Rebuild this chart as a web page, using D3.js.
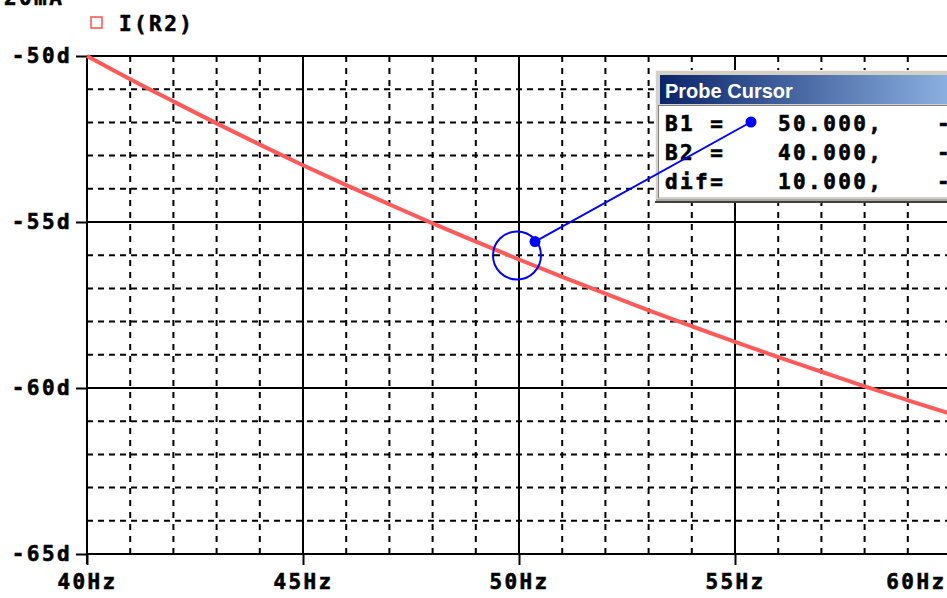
<!DOCTYPE html>
<html>
<head>
<meta charset="utf-8">
<script src="https://cdn.jsdelivr.net/npm/d3@7/dist/d3.min.js"></script>
<style>
html,body{margin:0;padding:0;background:#fff;overflow:hidden;}
svg{display:block;}
.lbl{font-family:"DejaVu Sans Mono",monospace;font-weight:bold;font-size:21px;letter-spacing:2.4px;fill:#000;stroke:#000;stroke-width:0.6px;}
</style>
</head>
<body>
<svg id="chart" width="947" height="598"></svg>
<script>
// ---- data ----
const freqHz = [40,41,42,43,44,45,46,47,48,49,50,51,52,53,54,55,56,57,58,59,60];
const phaseDeg = [-50.00,-50.70,-51.37,-52.03,-52.67,-53.29,-53.89,-54.47,-55.04,-55.59,-56.13,-56.65,-57.16,-57.66,-58.14,-58.61,-59.07,-59.51,-59.95,-60.37,-60.78];
const xTicks = [40,45,50,55,60];
const xTickLabels = ["40Hz","45Hz","50Hz","55Hz","60Hz"];
const yTicks = [-50,-55,-60,-65];
const yTickLabels = ["-50d","-55d","-60d","-65d"];
const xMinor = [41,42,43,44,46,47,48,49,51,52,53,54,56,57,58,59];
const yMinor = [-51,-52,-53,-54,-56,-57,-58,-59,-61,-62,-63,-64];
const seriesName = "I(R2)";
const topAxisLabel = "20mA";
const cursorB1 = 50, cursorB2 = 40;
const probeRows = [["B1 =","50.000,"],["B2 =","40.000,"],["dif=","10.000,"]];

// ---- layout ----
const svg = d3.select("#chart");
const x = d3.scaleLinear().domain([40,60]).range([87,951]);
const y = d3.scaleLinear().domain([-65,-50]).range([554,56]);
const W = 947;

// grid minor dashed
const g = svg.append("g");
g.selectAll(".vmin").data(xMinor).enter().append("line")
  .attr("x1",d=>x(d)).attr("x2",d=>x(d)).attr("y1",y(-50)).attr("y2",y(-65))
  .attr("stroke","#000").attr("stroke-width",2).attr("stroke-dasharray","6,6");
g.selectAll(".hmin").data(yMinor).enter().append("line")
  .attr("x1",x(40)).attr("x2",W).attr("y1",d=>y(d)).attr("y2",d=>y(d))
  .attr("stroke","#000").attr("stroke-width",2).attr("stroke-dasharray","6,5");
// major solid
g.selectAll(".vmaj").data(xTicks).enter().append("line")
  .attr("x1",d=>x(d)).attr("x2",d=>x(d)).attr("y1",y(-50)).attr("y2",y(-65))
  .attr("stroke","#000").attr("stroke-width",2);
g.selectAll(".hmaj").data(yTicks).enter().append("line")
  .attr("x1",x(40)).attr("x2",W).attr("y1",d=>y(d)).attr("y2",d=>y(d))
  .attr("stroke","#000").attr("stroke-width",2);

// axes
const xAxis = d3.axisBottom(x).tickValues(xTicks).tickSize(11).tickPadding(9)
  .tickFormat((d,i)=>xTickLabels[i]);
const xa = svg.append("g").attr("transform",`translate(0,${y(-65)})`).call(xAxis);
const yAxis = d3.axisLeft(y).tickValues(yTicks).tickSize(11).tickPadding(4)
  .tickFormat((d,i)=>yTickLabels[i]);
const ya = svg.append("g").attr("transform",`translate(${x(40)},0)`).call(yAxis);
[xa,ya].forEach(a=>{
  a.select(".domain").remove();
  a.selectAll(".tick line").attr("stroke","#000").attr("stroke-width",2);
  a.selectAll(".tick text").attr("class","lbl").attr("fill","#000");
});
xa.selectAll(".tick text").attr("dy","0.71em");
// last label clamped inside the view
xa.selectAll(".tick").filter(d=>d===60).select("text").attr("text-anchor","end").attr("x",W-x(60)-1);
// axis lines
svg.append("line").attr("x1",x(40)).attr("x2",x(40)).attr("y1",y(-50)).attr("y2",y(-65)+10)
  .attr("stroke","#000").attr("stroke-width",2);

// curve
svg.append("path").datum(freqHz.map((f,i)=>[f,phaseDeg[i]]))
  .attr("d",d3.line().x(d=>x(d[0])).y(d=>y(d[1])).curve(d3.curveMonotoneX))
  .attr("fill","none").attr("stroke","#ff5a5a").attr("stroke-width",4);

// top label (cut off) and legend
svg.append("text").attr("class","lbl").attr("x",4).attr("y",5).text(topAxisLabel);
svg.append("rect").attr("x",91).attr("y",17).attr("width",11).attr("height",11)
  .attr("fill","none").attr("stroke","#ff5a5a").attr("stroke-width",1.6);
svg.append("text").attr("class","lbl").attr("x",119).attr("y",31).text(seriesName);

// probe cursor window
const wx = 655, wy = 70;
const win = svg.append("g");
win.append("rect").attr("x",wx).attr("y",wy).attr("width",W-wx+5).attr("height",133).attr("fill","#d4d0c8");
win.append("line").attr("x1",wx).attr("x2",W).attr("y1",wy+0.5).attr("y2",wy+0.5).attr("stroke","#f4f3ee");
win.append("line").attr("x1",wx+0.5).attr("x2",wx+0.5).attr("y1",wy).attr("y2",wy+133).attr("stroke","#f4f3ee");
win.append("line").attr("x1",wx).attr("x2",W).attr("y1",wy+132).attr("y2",wy+132).attr("stroke","#404040").attr("stroke-width",2);
win.append("line").attr("x1",wx+1).attr("x2",W).attr("y1",wy+130).attr("y2",wy+130).attr("stroke","#808080").attr("stroke-width",1);
const grad = svg.append("defs").append("linearGradient").attr("id","tb").attr("x1","0").attr("x2","1");
grad.append("stop").attr("offset","0").attr("stop-color","#0a246a");
grad.append("stop").attr("offset","1").attr("stop-color","#8cb2e2");
win.append("rect").attr("x",wx+5).attr("y",wy+5).attr("width",W-wx).attr("height",29).attr("fill","url(#tb)");
win.append("text").attr("x",wx+10).attr("y",wy+28)
  .attr("font-family","'Liberation Sans',Arial,sans-serif").attr("font-weight","bold").attr("font-size","20px")
  .attr("fill","#fff").text("Probe Cursor");
win.append("rect").attr("x",wx+4).attr("y",wy+36).attr("width",W-wx).attr("height",91).attr("fill","#fff");
win.append("line").attr("x1",wx+3).attr("x2",W).attr("y1",wy+35.5).attr("y2",wy+35.5).attr("stroke","#808080");
win.append("line").attr("x1",wx+3.5).attr("x2",wx+3.5).attr("y1",wy+35).attr("y2",wy+128).attr("stroke","#808080");
probeRows.forEach((r,i)=>{
  const by = wy + 61 + i*29;
  win.append("text").attr("class","lbl").attr("x",wx+10).attr("y",by).text(r[0]);
  win.append("text").attr("class","lbl").attr("x",wx+123).attr("y",by).text(r[1]);
  win.append("text").attr("class","lbl").attr("x",wx+282).attr("y",by).text("-");
});

// cursor marker
const cy = y(phaseDeg[freqHz.indexOf(cursorB1)]);
const cx = x(cursorB1);
svg.append("circle").attr("cx",cx-2).attr("cy",cy-4).attr("r",24)
  .attr("fill","none").attr("stroke","#0000ff").attr("stroke-width",2);
const p1 = [cx+16, cy-18], p2 = [wx+96, wy+52];
svg.append("line").attr("x1",p1[0]).attr("y1",p1[1]).attr("x2",p2[0]).attr("y2",p2[1])
  .attr("stroke","#0000ff").attr("stroke-width",2);
svg.append("circle").attr("cx",p1[0]).attr("cy",p1[1]).attr("r",5.5).attr("fill","#0000ff");
svg.append("circle").attr("cx",p2[0]).attr("cy",p2[1]).attr("r",5.5).attr("fill","#0000ff");
</script>
</body>
</html>
